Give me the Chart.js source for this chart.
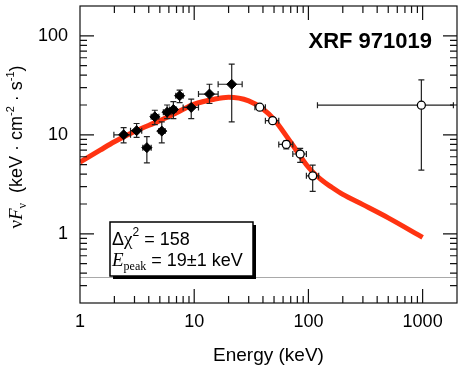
<!DOCTYPE html>
<html>
<head>
<meta charset="utf-8">
<script src="https://cdn.jsdelivr.net/npm/chart.js@4/dist/chart.umd.min.js"></script>
<style>
  html, body { margin: 0; padding: 0; background: #fff; }
  canvas { display: block; }
</style>
</head>
<body>
<canvas id="spectrum" width="463" height="369"></canvas>
<script>
// filled diamonds (low energy data)
const fillE   = [2.41, 3.13, 3.85, 4.52, 5.2, 5.79, 6.57, 7.45, 9.42, 13.6, 21.3];
const fillF   = [10.0, 11.0, 7.42, 15.2, 10.9, 16.9, 18.0, 24.8, 18.9, 25.8, 32.4];
const fillElo = [1.98, 2.77, 3.55, 4.2, 4.9, 5.37, 6.06, 6.9, 8.0, 10.9, 16.2];
const fillEhi = [2.77, 3.47, 4.2, 4.9, 5.56, 6.27, 7.0, 8.0, 10.9, 16.2, 26.3];
const fillFlo = [8.3, 9.4, 5.2, 12.7, 8.3, 14.6, 14.6, 21.1, 14.6, 20.7, 13.5];
const fillFhi = [11.8, 13.0, 9.6, 17.7, 13.5, 20.0, 21.6, 28.3, 22.9, 32.4, 51.8];

// open circles (high energy data)
const openE   = [37.5, 48.6, 64, 84.7, 109, 975];
const openF   = [19.0, 13.9, 8.0, 6.4, 3.85, 19.9];
const openElo = [34, 42, 55, 73, 96, 120];
const openEhi = [42, 55, 73, 96, 123, 1860];
const openFlo = [18.6, 13.6, 7.2, 5.26, 2.68, 4.4];
const openFhi = [19.4, 14.2, 8.7, 7.3, 4.94, 35.8];

// model curve
const curveE = [1, 1.5, 2, 3, 5, 7, 10, 15, 20, 30, 40, 50, 70, 100, 130, 160, 200, 300, 500, 1000];
const curveF = [5.3, 7.0, 8.5, 10.8, 13.9, 16.7, 20.4, 22.9, 23.9, 22.0, 18.2, 14.3, 8.4, 4.7, 3.5, 2.95, 2.5, 1.97, 1.45, 0.92];

const xTickLabels = [1, 10, 100, 1000];
const yTickLabels = [1, 10, 100];
const bgLevel = 0.37;

const SANS = '"Liberation Sans", Arial, Helvetica, sans-serif';
const SERIF = '"Liberation Serif", "Times New Roman", serif';

function pts(xs, ys) {
  return xs.map((v, i) => ({ x: v, y: ys[i] }));
}

function minorValues(min, max) {
  const out = [];
  for (let d = Math.floor(Math.log10(min)); d <= Math.ceil(Math.log10(max)); d++) {
    for (let m = 1; m <= 9; m++) {
      const v = m * Math.pow(10, d);
      if (v >= min * 0.999 && v <= max * 1.001) out.push({ v, major: m === 1 });
    }
  }
  return out;
}

// draw a run of text pieces: [text, font, dy]
function drawRuns(ctx, runs, x, y) {
  runs.forEach(r => {
    ctx.font = r[1];
    ctx.fillText(r[0], x, y + (r[2] || 0));
    x += ctx.measureText(r[0]).width;
  });
}
function runsWidth(ctx, runs) {
  let w = 0;
  runs.forEach(r => { ctx.font = r[1]; w += ctx.measureText(r[0]).width; });
  return w;
}

function errorBars(ctx, x, y, E, F, Elo, Ehi, Flo, Fhi) {
  const cap = 3;
  ctx.beginPath();
  E.forEach((e, i) => {
    const px = x.getPixelForValue(e), py = y.getPixelForValue(F[i]);
    const x0 = x.getPixelForValue(Elo[i]), x1 = x.getPixelForValue(Ehi[i]);
    const y0 = y.getPixelForValue(Flo[i]), y1 = y.getPixelForValue(Fhi[i]);
    ctx.moveTo(x0, py); ctx.lineTo(x1, py);
    ctx.moveTo(x0, py - cap); ctx.lineTo(x0, py + cap);
    ctx.moveTo(x1, py - cap); ctx.lineTo(x1, py + cap);
    ctx.moveTo(px, y0); ctx.lineTo(px, y1);
    ctx.moveTo(px - cap, y0); ctx.lineTo(px + cap, y0);
    ctx.moveTo(px - cap, y1); ctx.lineTo(px + cap, y1);
  });
  ctx.stroke();
}

const decorations = {
  id: 'decorations',
  beforeDatasetsDraw(chart) {
    const { ctx, chartArea: a, scales: { y } } = chart;
    const py = Math.round(y.getPixelForValue(bgLevel)) + 0.5;
    ctx.save();
    ctx.strokeStyle = '#a9a9a9';
    ctx.lineWidth = 1;
    ctx.beginPath();
    ctx.moveTo(a.left, py);
    ctx.lineTo(a.right, py);
    ctx.stroke();
    ctx.restore();
  },
  afterDatasetDraw(chart, args) {
    if (args.index !== 0) return;
    const { ctx, scales: { x, y } } = chart;
    ctx.save();
    ctx.strokeStyle = '#222';
    ctx.lineWidth = 1.2;
    errorBars(ctx, x, y, fillE, fillF, fillElo, fillEhi, fillFlo, fillFhi);
    errorBars(ctx, x, y, openE, openF, openElo, openEhi, openFlo, openFhi);
    ctx.restore();
  },
  afterDraw(chart) {
    const { ctx, chartArea: a, scales: { x, y } } = chart;
    ctx.save();

    // frame
    ctx.strokeStyle = '#111';
    ctx.lineWidth = 1.2;
    ctx.strokeRect(a.left, a.top, a.right - a.left, a.bottom - a.top);

    // inward ticks on all four sides
    ctx.beginPath();
    minorValues(x.min, x.max).forEach(t => {
      const px = x.getPixelForValue(t.v);
      if (px <= a.left + 1 || px >= a.right - 1) return;
      const len = t.major ? 14 : 7;
      ctx.moveTo(px, a.bottom); ctx.lineTo(px, a.bottom - len);
      ctx.moveTo(px, a.top); ctx.lineTo(px, a.top + len);
    });
    minorValues(y.min, y.max).forEach(t => {
      const py = y.getPixelForValue(t.v);
      if (py <= a.top + 1 || py >= a.bottom - 1) return;
      const len = t.major ? 14 : 7;
      ctx.moveTo(a.left, py); ctx.lineTo(a.left + len, py);
      ctx.moveTo(a.right, py); ctx.lineTo(a.right - len, py);
    });
    ctx.stroke();

    // title
    ctx.fillStyle = '#000';
    ctx.textBaseline = 'alphabetic';
    ctx.textAlign = 'right';
    ctx.font = 'bold 22px ' + SANS;
    ctx.fillText('XRF 971019', 432, 48);

    // fit result box with shadow
    const bx = 110, by = 222, bw = 143, bh = 54;
    ctx.fillStyle = '#000';
    ctx.fillRect(bx + 3, by + 3, bw, bh);
    ctx.fillStyle = '#fff';
    ctx.fillRect(bx, by, bw, bh);
    ctx.strokeStyle = '#000';
    ctx.lineWidth = 1.5;
    ctx.strokeRect(bx, by, bw, bh);

    ctx.fillStyle = '#000';
    ctx.textAlign = 'left';
    drawRuns(ctx, [
      ['\u0394', '18px ' + SANS],
      ['\u03c7', '19px ' + SERIF],
      ['2', '12px ' + SANS, -9],
      [' = 158', '18px ' + SANS]
    ], 112, 245);
    drawRuns(ctx, [
      ['E', 'italic 19px ' + SERIF],
      ['peak', '12px ' + SERIF, 4],
      [' = 19\u00b11 keV', '18px ' + SANS]
    ], 112, 266);

    // y axis label
    const yRuns = [
      ['\u03bd', '19px ' + SERIF],
      ['F', 'italic 19px ' + SERIF],
      ['\u03bd', '12px ' + SERIF, 4],
      ['  (keV \u00b7 cm', '18px ' + SANS],
      ['-2', '11px ' + SANS, -8],
      [' \u00b7 s', '18px ' + SANS],
      ['-1', '11px ' + SANS, -8],
      [')', '18px ' + SANS]
    ];
    ctx.translate(22, 147);
    ctx.rotate(-Math.PI / 2);
    drawRuns(ctx, yRuns, -runsWidth(ctx, yRuns) / 2, 0);
    ctx.restore();
  }
};

new Chart(document.getElementById('spectrum'), {
  type: 'scatter',
  data: {
    datasets: [
      {
        type: 'line',
        data: pts(curveE, curveF),
        borderColor: '#ff3311',
        borderWidth: 5,
        pointRadius: 0,
        cubicInterpolationMode: 'monotone',
        fill: false,
        order: 3
      },
      {
        data: pts(fillE, fillF),
        pointStyle: 'rectRot',
        pointRadius: 5,
        backgroundColor: '#000',
        borderColor: '#000',
        borderWidth: 1,
        order: 1
      },
      {
        data: pts(openE, openF),
        pointStyle: 'circle',
        pointRadius: 4,
        backgroundColor: '#fff',
        borderColor: '#000',
        borderWidth: 1.3,
        order: 2
      }
    ]
  },
  options: {
    responsive: false,
    animation: false,
    events: [],
    layout: { padding: { left: 0, right: 6, top: 6, bottom: 0 } },
    plugins: { legend: { display: false }, tooltip: { enabled: false } },
    scales: {
      x: {
        type: 'logarithmic',
        min: 1,
        max: 2000,
        grid: { display: false, drawTicks: false },
        border: { display: false },
        afterBuildTicks: s => { s.ticks = xTickLabels.map(v => ({ value: v })); },
        afterFit: s => { s.height = 66; s.paddingLeft = 0; s.paddingRight = 0; },
        ticks: {
          autoSkip: false,
          maxRotation: 0,
          padding: 8,
          color: '#000',
          font: { family: SANS, size: 18 },
          callback: v => String(v)
        },
        title: {
          display: true,
          text: 'Energy (keV)',
          color: '#000',
          font: { family: SANS, size: 19 },
          padding: { top: 0, bottom: 2 }
        }
      },
      y: {
        type: 'logarithmic',
        min: 0.2,
        max: 200,
        grid: { display: false, drawTicks: false },
        border: { display: false },
        afterBuildTicks: s => { s.ticks = yTickLabels.map(v => ({ value: v })); },
        afterFit: s => { s.width = 80; s.paddingTop = 0; s.paddingBottom = 0; },
        ticks: {
          autoSkip: false,
          padding: 12,
          color: '#000',
          font: { family: SANS, size: 18 },
          callback: v => String(v)
        }
      }
    }
  },
  plugins: [decorations]
});
</script>
</body>
</html>
